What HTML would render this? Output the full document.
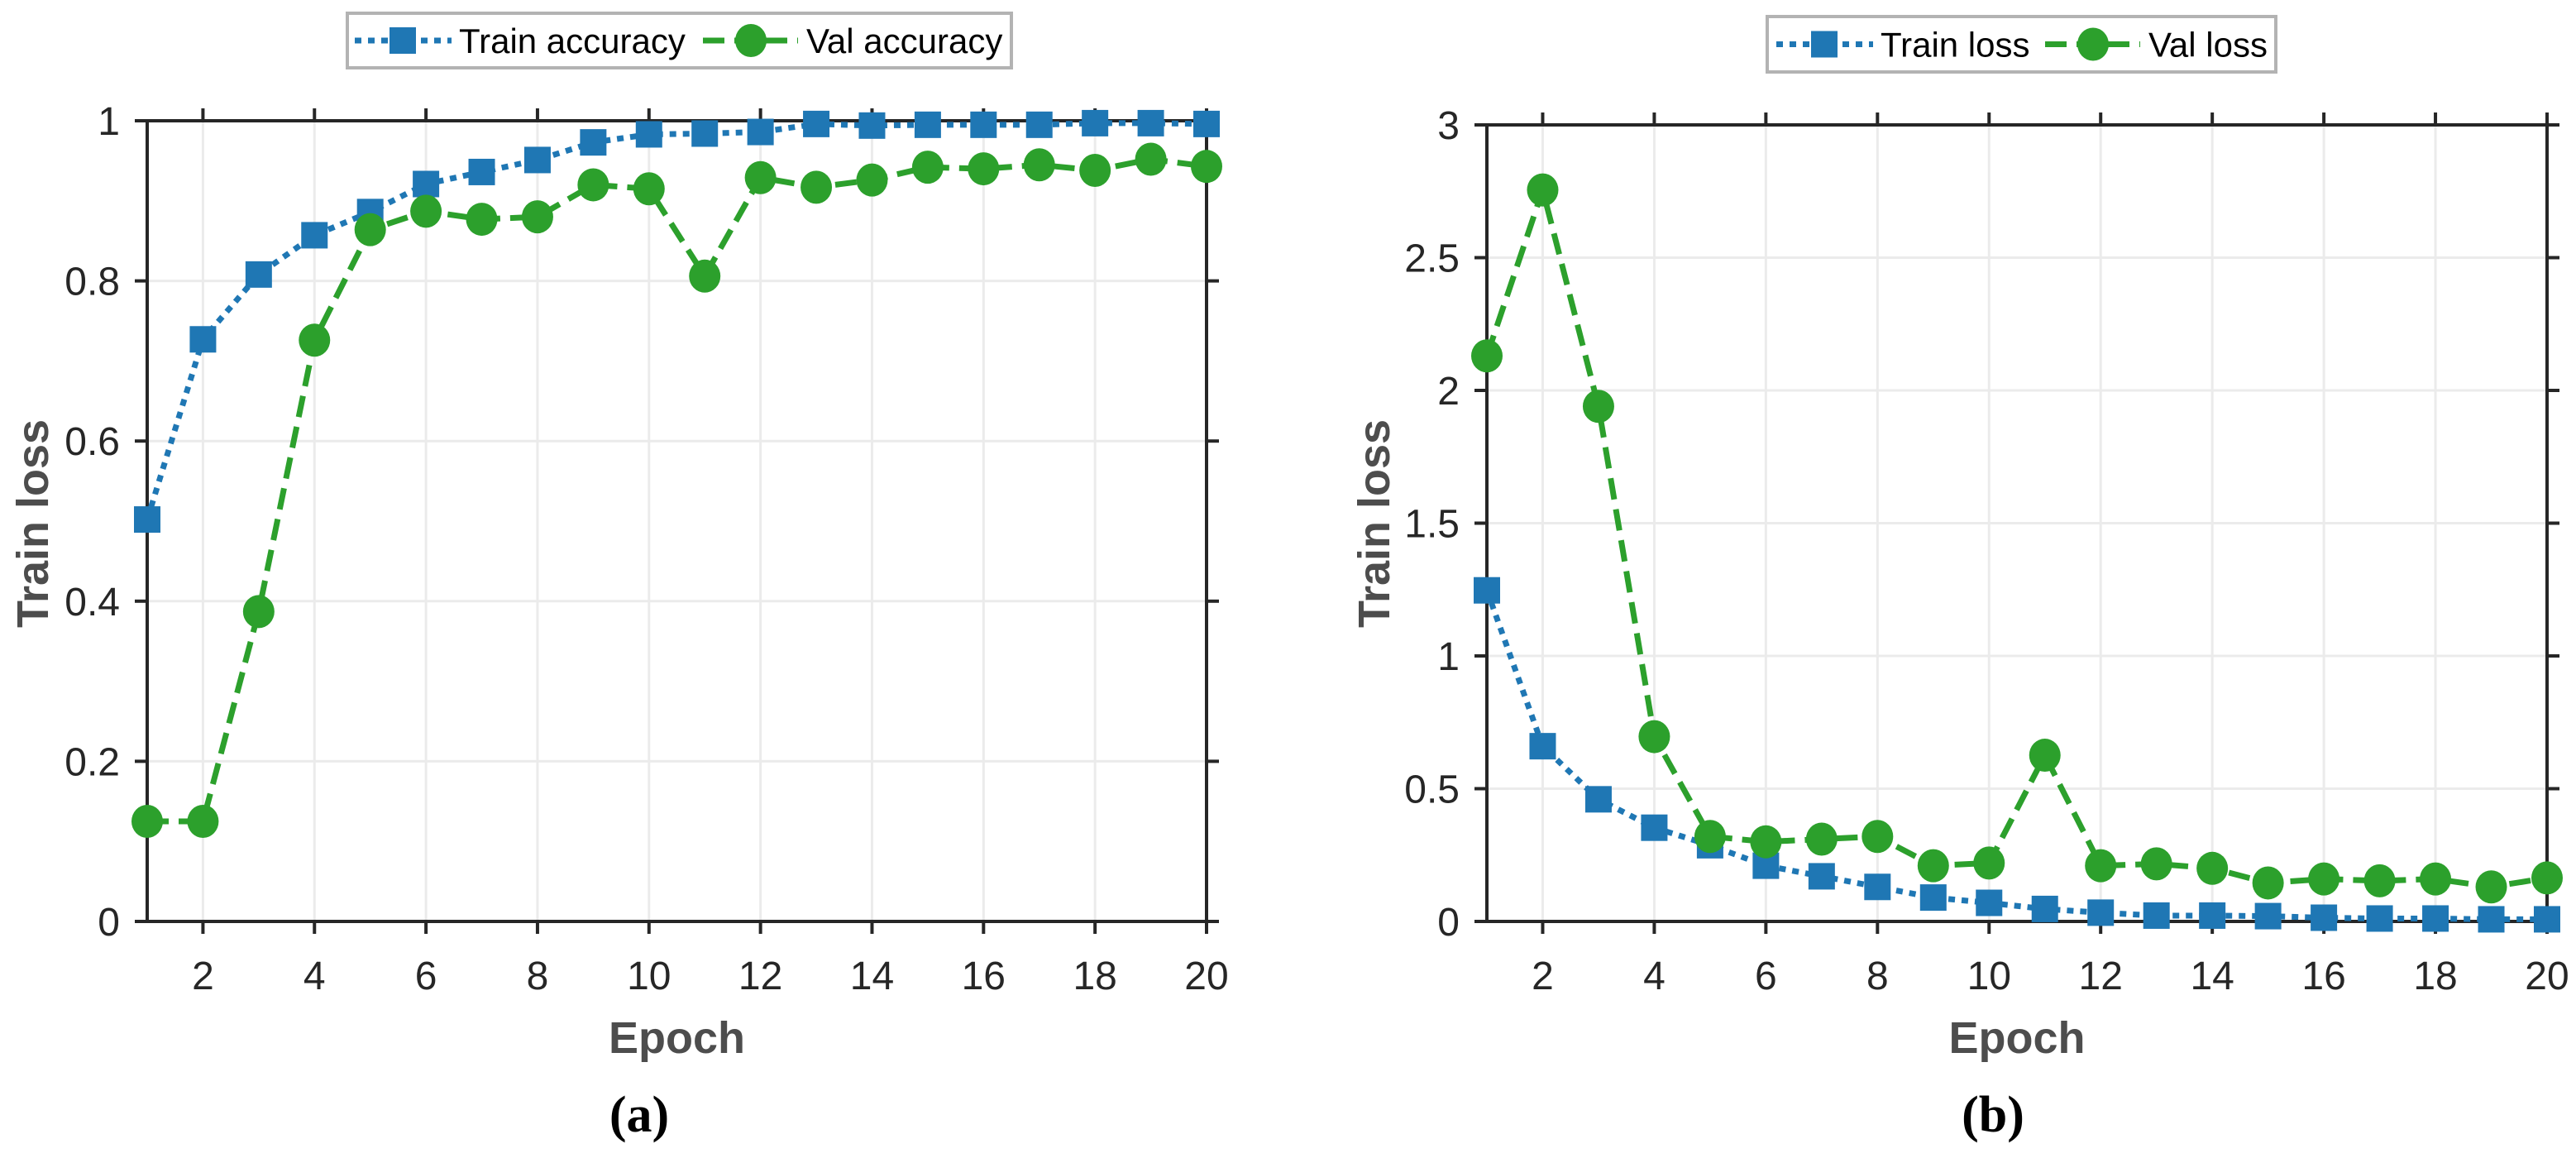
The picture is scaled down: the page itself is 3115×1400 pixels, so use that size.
<!DOCTYPE html>
<html><head><meta charset="utf-8"><style>
html,body{margin:0;padding:0;background:#fff;}
svg{display:block;font-family:"Liberation Sans",sans-serif;}
</style></head><body>
<svg id="fig" width="3115" height="1400" viewBox="0 0 3115 1400" xmlns="http://www.w3.org/2000/svg"></svg>
<script>
const epochs = [1,2,3,4,5,6,7,8,9,10,11,12,13,14,15,16,17,18,19,20];
const trainAcc = [0.502,0.727,0.808,0.857,0.886,0.921,0.936,0.951,0.973,0.983,0.984,0.986,0.996,0.994,0.995,0.995,0.995,0.997,0.997,0.996];
const valAcc = [0.125,0.125,0.387,0.726,0.864,0.887,0.877,0.880,0.920,0.915,0.806,0.929,0.917,0.926,0.942,0.940,0.945,0.938,0.952,0.943];
const trainLoss = [1.247,0.66,0.46,0.353,0.287,0.21,0.17,0.13,0.09,0.07,0.047,0.033,0.022,0.022,0.02,0.014,0.011,0.011,0.008,0.008];
const valLoss = [2.13,2.755,1.94,0.696,0.32,0.30,0.31,0.32,0.21,0.22,0.626,0.21,0.217,0.20,0.145,0.16,0.153,0.16,0.13,0.164];
const xTicks = [2,4,6,8,10,12,14,16,18,20];
const yTicksA = [0,0.2,0.4,0.6,0.8,1];
const yTickLabelsA = ["0","0.2","0.4","0.6","0.8","1"];
const yTicksB = [0,0.5,1,1.5,2,2.5,3];
const yTickLabelsB = ["0","0.5","1","1.5","2","2.5","3"];

const NS = "http://www.w3.org/2000/svg";
const svg = document.getElementById('fig');
function mk(tag, attrs, parent){
  const e = document.createElementNS(NS, tag);
  for (const k in attrs) e.setAttribute(k, attrs[k]);
  (parent||svg).appendChild(e);
  return e;
}
const BLUE="#1f77b4", GREEN="#2ca02c", AX="#262626";

function chart(c){
  const g = mk('g', {});
  
  
  const xs = v => c.x0 + (v - 1) / 19 * (c.x1 - c.x0);
  const ys = v => c.yb - (v - c.ymin) / (c.ymax - c.ymin) * (c.yb - c.yt);
  const grid = mk('g', {stroke:"#ebebeb", "stroke-width":3}, g);
  
  
  xTicks.forEach(t => mk('line', {x1:xs(t), x2:xs(t), y1:c.yt, y2:c.yb}, grid));
  c.yTicks.forEach(t => mk('line', {x1:c.x0, x2:c.x1, y1:ys(t), y2:ys(t)}, grid));
  const box = mk('rect', {x:c.x0, y:c.yt, width:c.x1-c.x0, height:c.yb-c.yt, fill:"none", stroke:AX, "stroke-width":4}, g);
  
  
  const ticks = mk('g', {stroke:AX, "stroke-width":4}, g);
  
  
  const xl = mk('g', {"font-size":48, fill:AX, "text-anchor":"middle"}, g);
  
  
  xTicks.forEach(t => {
    mk('line', {x1:xs(t), x2:xs(t), y1:c.yb, y2:c.yb+15}, ticks);
    mk('line', {x1:xs(t), x2:xs(t), y1:c.yt, y2:c.yt-15}, ticks);
    const tx = mk('text', {x:xs(t), y:c.yb+82}, xl); tx.textContent = t;
  });
  const yl = mk('g', {"font-size":48, fill:AX, "text-anchor":"end"}, g);
  
  
  c.yTicks.forEach((t,i) => {
    mk('line', {x1:c.x0-15, x2:c.x0, y1:ys(t), y2:ys(t)}, ticks);
    mk('line', {x1:c.x1, x2:c.x1+15, y1:ys(t), y2:ys(t)}, ticks);
    const tx = mk('text', {x:c.x0-33, y:ys(t)+17}, yl); tx.textContent = c.yLabels[i];
  });
  const ptsT = epochs.map((e,i)=>xs(e)+","+ys(c.train[i])).join(" ");
  const ptsV = epochs.map((e,i)=>xs(e)+","+ys(c.val[i])).join(" ");
  const lt = mk('polyline', {points:ptsT, fill:"none", stroke:BLUE, "stroke-width":7, "stroke-dasharray":"8 8"}, g);
  
  
  const lv = mk('polyline', {points:ptsV, fill:"none", stroke:GREEN, "stroke-width":7, "stroke-dasharray":"26 12"}, g);
  
  
  epochs.forEach((e,i)=>{
    const s = mk('rect', {x:xs(e)-16, y:ys(c.train[i])-16, width:32, height:32, fill:BLUE}, g);
    
    
  });
  epochs.forEach((e,i)=>{
    const o = mk('ellipse', {cx:xs(e), cy:ys(c.val[i]), rx:19, ry:20, fill:GREEN}, g);
    
    
  });
  const xt = mk('text', {x:(c.x0+c.x1)/2, y:1273, "font-size":54, "font-weight":"bold", fill:"#4d4d4d", "text-anchor":"middle"}, g);
  xt.textContent = "Epoch";
  
  
  const yt = mk('text', {x:0, y:0, "font-size":54, "font-weight":"bold", fill:"#4d4d4d", "text-anchor":"middle", transform:`translate(${c.ytx},633) rotate(-90)`}, g);
  yt.textContent = "Train loss";
  
  
  const cap = mk('text', {x:c.capx, y:1368, "font-size":62, "font-weight":"bold", fill:"#000", "text-anchor":"middle", "font-family":"Liberation Serif, serif"}, g);
  cap.textContent = c.cap;
  
  
  const L = c.leg;
  const lg = mk('g', {}, g);
  
  
  mk('rect', {x:L.x, y:L.y, width:L.w, height:L.h, fill:"#fff", stroke:"#b3b3b3", "stroke-width":4}, lg);
  const cy = L.y + L.h/2;
  mk('line', {x1:L.s1, x2:L.s1+117, y1:cy, y2:cy, stroke:BLUE, "stroke-width":7, "stroke-dasharray":"8 8"}, lg);
  mk('rect', {x:L.s1+58-16, y:cy-16, width:32, height:32, fill:BLUE}, lg);
  const t1 = mk('text', {x:L.s1+126, y:cy+15, "font-size":42, fill:"#000"}, lg); t1.textContent = c.n1;
  mk('line', {x1:L.s2, x2:L.s2+115, y1:cy, y2:cy, stroke:GREEN, "stroke-width":7, "stroke-dasharray":"26 12"}, lg);
  mk('ellipse', {cx:L.s2+58, cy:cy, rx:19, ry:20, fill:GREEN}, lg);
  const t2 = mk('text', {x:L.s2+125, y:cy+15, "font-size":42, fill:"#000"}, lg); t2.textContent = c.n2;
}

chart({name:"accuracy-chart", x0:178, x1:1459, yt:146, yb:1114, ymin:0, ymax:1,
  yTicks:yTicksA, yLabels:yTickLabelsA, train:trainAcc, val:valAcc, ytx:58, capx:773, cap:"(a)",
  n1:"Train accuracy", n2:"Val accuracy", leg:{x:420, y:16, w:803, h:66, s1:429, s2:850}});
chart({name:"loss-chart", x0:1798, x1:3080, yt:151, yb:1114, ymin:0, ymax:3,
  yTicks:yTicksB, yLabels:yTickLabelsB, train:trainLoss, val:valLoss, ytx:1680, capx:2410, cap:"(b)",
  n1:"Train loss", n2:"Val loss", leg:{x:2137, y:20, w:615, h:67, s1:2148, s2:2473}});
</script>
</body></html>
